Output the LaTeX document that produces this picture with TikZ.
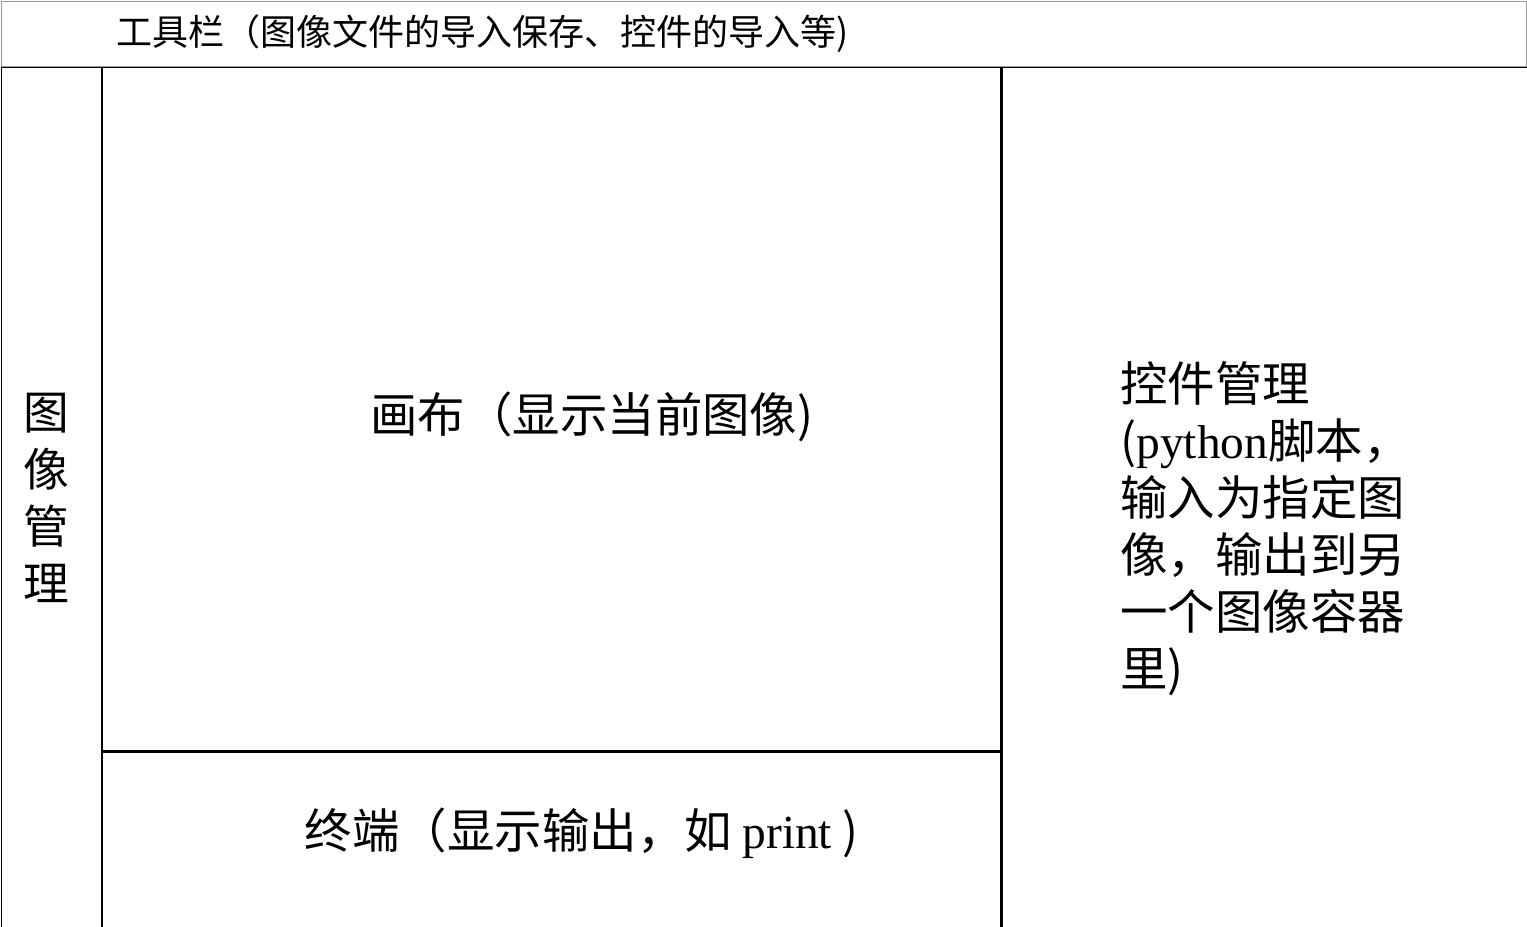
\documentclass[tikz,border=0pt]{standalone}
\usepackage{fontspec}
\setmainfont{Noto Sans CJK SC}
\newfontfamily\latinf{Liberation Serif}
\usetikzlibrary{positioning}

\begin{document}
\begin{tikzpicture}[
        panel/.style={rectangle, draw=black, line width=0.7pt, inner sep=0pt, anchor=north west},
        label/.style={font=\fontsize{27}{32.4}\selectfont, align=left, inner sep=0pt}
    ]

    \useasboundingbox (0,0) rectangle (30.54,-18.54);

    % panels
    \node (toolbar) [panel, draw=gray!80, minimum width=30.5cm, minimum height=1.3cm] at (0.02,-0.02) {};
    \node (imgmgr) [panel, minimum width=2cm, minimum height=17.2cm] at (toolbar.south west) {};
    \node (canvas) [panel, minimum width=17.96cm, minimum height=13.66cm] at (imgmgr.north east) {};
    \node (term) [panel, minimum width=17.96cm, minimum height=3.54cm] at (canvas.south west) {};
    \node (ctrlmgr) [panel, minimum width=10.54cm, minimum height=17.2cm] at (canvas.north east) {};

    % texts
    \node (toolbartext) [label, font=\fontsize{20.5}{24}\selectfont, anchor=west, xshift=2.3cm] at (toolbar.west) {工具栏（图像文件的导入保存、控件的导入等)};
    \node (imgmgrtext) [label, align=center, font=\fontsize{26}{32.5}\selectfont, xshift=-0.1cm] at (imgmgr.center) {图\\像\\管\\理};
    \node (canvastext) [label, xshift=0.8cm, yshift=-0.15cm] at (canvas.center) {画布（显示当前图像)};
    \node (termtext) [label, xshift=0.6cm, yshift=0.15cm] at (term.center) {终端（显示输出，如 {\latinf print} )};
    \node (ctrltext) [label, yshift=-0.62cm] at (ctrlmgr.center) {控件管理\\({\latinf python}脚本，\\输入为指定图\\像，输出到另\\一个图像容器\\里)};

\end{tikzpicture}
\end{document}
